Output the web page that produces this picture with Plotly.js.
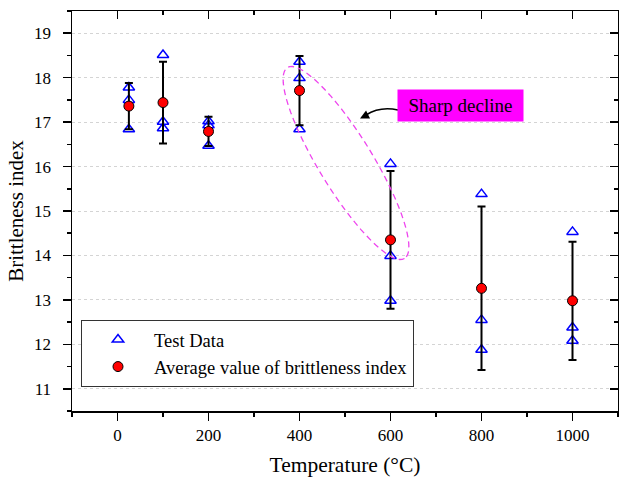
<!DOCTYPE html>
<html>
<head>
<meta charset="utf-8">
<script src="https://cdn.plot.ly/plotly-3.0.1.min.js"></script>
<style>html,body{margin:0;padding:0;background:#fff;}</style>
</head>
<body>
<div id="chart" style="width:619px;height:479px;"></div>
<script>
// Temperatures (°C)
const temps = [25, 100, 200, 400, 600, 800, 1000];
// Three test results per temperature
const test1 = [17.78, 18.51, 17.02, 18.36, 16.06, 15.38, 14.53];
const test2 = [17.50, 17.01, 16.93, 17.99, 13.99, 12.55, 12.38];
const test3 = [16.84, 16.86, 16.47, 16.84, 12.98, 11.88, 12.08];
// Average values and standard deviation (error bars)
const avgVals = [17.36, 17.44, 16.79, 17.71, 14.35, 13.26, 12.98];
const sdVals  = [0.52, 0.92, 0.33, 0.78, 1.55, 1.84, 1.33];

const testX = temps.concat(temps, temps);
const testY = test1.concat(test2, test3);

const FONT = 'Liberation Serif, Times New Roman, serif';

// plot-area geometry (pixels) used for annotation shapes
const L = 72, R = 618, T = 11, B = 411;
const XR = [-100, 1100], YR = [10.5, 19.5];
const px2x = p => XR[0] + (p - L) / (R - L) * (XR[1] - XR[0]);
const py2y = p => YR[1] - (p - T) / (B - T) * (YR[1] - YR[0]);

// dashed ellipse around the sharp decline
function ellipsePath(cx, cy, a, b, deg) {
  const th = deg * Math.PI / 180;
  let d = '';
  const n = 72;
  for (let i = 0; i <= n; i++) {
    const t = 2 * Math.PI * i / n;
    const px = cx + a * Math.cos(th) * Math.cos(t) - b * Math.sin(th) * Math.sin(t);
    const py = cy + a * Math.sin(th) * Math.cos(t) + b * Math.cos(th) * Math.sin(t);
    d += (i === 0 ? 'M ' : ' L ') + px2x(px).toFixed(3) + ',' + py2y(py).toFixed(3);
  }
  return d + ' Z';
}
// curved arrow stem (quadratic bezier, pixel-space control points)
function curvePath(p0, c, p1) {
  const f = p => px2x(p[0]).toFixed(3) + ',' + py2y(p[1]).toFixed(3);
  return 'M ' + f(p0) + ' Q ' + f(c) + ' ' + f(p1);
}

const traces = [
  {
    x: testX, y: testY, type: 'scatter', mode: 'markers', name: 'Test Data',
    marker: {symbol: 'triangle-up-open', size: 10, color: '#0000ff', line: {width: 1.5, color: '#0000ff'}},
    hoverinfo: 'x+y'
  },
  {
    x: temps, y: avgVals, type: 'scatter', mode: 'markers', name: 'Average value of brittleness index',
    marker: {symbol: 'circle', size: 10, color: '#ff0000', line: {width: 1, color: '#000'}},
    error_y: {type: 'data', array: sdVals, visible: true, color: '#000', thickness: 2, width: 4}
  },
  {
    x: [], y: [], xaxis: 'x2', yaxis: 'y2', type: 'scatter', mode: 'markers',
    showlegend: false, hoverinfo: 'skip'
  }
];

const axisCommon = {
  showline: true, linecolor: '#000', linewidth: 1.5, zeroline: false,
  tickfont: {family: FONT, size: 17, color: '#000'}
};

const layout = {
  width: 619, height: 479,
  margin: {l: L, r: 619 - R, t: T, b: 479 - B},
  paper_bgcolor: '#fff', plot_bgcolor: '#fff',
  font: {family: FONT, color: '#000'},
  showlegend: true,
  legend: {
    x: (81 - L) / (R - L), y: (B - 320) / (B - T), xanchor: 'left', yanchor: 'top',
    bgcolor: '#fff', bordercolor: '#333', borderwidth: 1, itemwidth: 62,
    font: {family: FONT, size: 18.5, color: '#000'}
  },
  xaxis: Object.assign({}, axisCommon, {
    range: XR, tick0: 0, dtick: 200, ticks: 'outside', ticklen: 8, tickwidth: 1.5, tickcolor: '#000',
    minor: {dtick: 100, tick0: 0, ticks: 'outside', ticklen: 4, tickwidth: 1.5, tickcolor: '#000', showgrid: false},
    showgrid: false,
    title: {text: 'Temperature (°C)', font: {family: FONT, size: 21.5, color: '#000'}, standoff: 13}
  }),
  yaxis: Object.assign({}, axisCommon, {
    range: YR, tick0: 11, dtick: 1, ticks: 'outside', ticklen: 8, tickwidth: 1.5, tickcolor: '#000',
    minor: {dtick: 0.5, tick0: 11, ticks: 'outside', ticklen: 4, tickwidth: 1.5, tickcolor: '#000', showgrid: false},
    showgrid: true, gridcolor: '#d4d4d4', gridwidth: 1, griddash: '3px,3px',
    ticklabelstandoff: 8,
    title: {text: 'Brittleness index', font: {family: FONT, size: 21, color: '#000'}, standoff: 4}
  }),
  xaxis2: {
    overlaying: 'x', side: 'top', anchor: 'y', range: XR, tick0: 0, dtick: 200,
    showline: true, linecolor: '#000', linewidth: 1.5, zeroline: false, showgrid: false,
    ticks: 'inside', ticklen: 8, tickwidth: 1.5, tickcolor: '#000', showticklabels: false,
    minor: {dtick: 100, tick0: 0, ticks: 'inside', ticklen: 4, tickwidth: 1.5, tickcolor: '#000'}
  },
  yaxis2: {
    overlaying: 'y', side: 'right', anchor: 'x', range: YR, tick0: 11, dtick: 1,
    showline: true, linecolor: '#000', linewidth: 1.5, zeroline: false, showgrid: false,
    ticks: 'inside', ticklen: 8, tickwidth: 1.5, tickcolor: '#000', showticklabels: false,
    minor: {dtick: 0.5, tick0: 11, ticks: 'inside', ticklen: 4, tickwidth: 1.5, tickcolor: '#000'}
  },
  shapes: [
    {
      type: 'path', xref: 'x', yref: 'y', path: ellipsePath(346, 163, 112, 27, 58.5),
      line: {color: '#ee44ee', width: 1.3, dash: '6px,4px'}
    },
    {
      type: 'path', xref: 'x', yref: 'y', path: curvePath([398, 110], [380, 106], [366, 115]),
      line: {color: '#000', width: 1.5}
    }
  ],
  annotations: [
    {
      x: px2x(460), y: py2y(105.5), xref: 'x', yref: 'y',
      text: 'Sharp decline', showarrow: false,
      font: {family: FONT, size: 19, color: '#000'},
      bgcolor: '#ff00ff', width: 125, height: 31, borderpad: 0
    },
    {
      x: px2x(360), y: py2y(118.5), xref: 'x', yref: 'y',
      ax: 8, ay: -4, text: '', showarrow: true,
      arrowhead: 2, arrowsize: 1.2, arrowwidth: 1.5, arrowcolor: '#000'
    }
  ]
};

Plotly.newPlot('chart', traces, layout, {displayModeBar: false, staticPlot: true});
</script>
</body>
</html>
